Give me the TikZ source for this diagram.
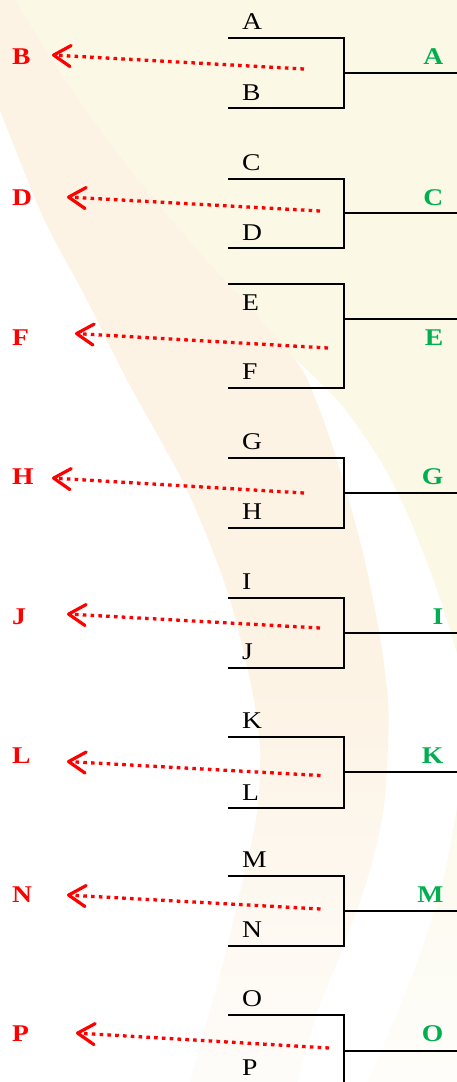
\documentclass[tikz,border=0pt]{standalone}
\usepackage{fontspec}
\setmainfont{Liberation Serif}[FakeStretch=1.15]
\usetikzlibrary{arrows.meta,fadings}
\definecolor{creamc}{RGB}{252,248,230}
\definecolor{peachc}{RGB}{253,243,228}
\definecolor{redc}{RGB}{255,0,0}
\definecolor{greenc}{RGB}{0,176,80}
\tikzfading[name=fadedown, top color=transparent!100, bottom color=transparent!0]
\tikzset{
  brk/.style={line width=2pt, draw=black},
  blk/.style={font=\fontsize{24}{24}\selectfont, anchor=base west, inner sep=0pt, text=black},
  redl/.style={font=\fontsize{24}{24}\selectfont\bfseries, anchor=base west, inner sep=0pt, text=redc},
  grnl/.style={font=\fontsize{24}{24}\selectfont\bfseries, anchor=base east, inner sep=0pt, text=greenc},
  darr/.style={draw=redc, line width=3.3pt, dash pattern=on 3.6pt off 4.2pt,
    -{Straight Barb[length=17pt,width=21pt,line width=3.2pt,round]}},
}
\begin{document}
\begin{tikzpicture}[x=1pt,y=-1pt]
\useasboundingbox (0,0) rectangle (457,1082);
\begin{scope}
\clip (0,0) rectangle (457,1082);
\fill[white] (0,0) rectangle (457,1082);
% upper right cream region
\fill[creamc] (15,0) -- (457,0) -- (457,653)
  -- plot[smooth] coordinates {(457,653) (447,620) (430,570) (407,513) (380,460) (340,403) (293,357)}
  -- plot[smooth] coordinates {(293,357) (200,253) (133,173) (67,83) (15,0)} -- cycle;
% lower right cream region
\fill[creamc] (457,807)
  -- plot[smooth] coordinates {(457,807) (443,880) (417,963) (383,1047) (367,1082)}
  -- (457,1082) -- cycle;
% peach band
\fill[peachc] (0,0) -- (15,0)
  -- plot[smooth] coordinates {(15,0) (67,83) (133,173) (200,253) (293,357) (317,403) (340,470) (363,553) (380,637) (388,700) (388,747) (383,813) (367,880) (343,947) (317,1013) (297,1082)}
  -- (190,1082)
  -- plot[smooth] coordinates {(190,1082) (200,1047) (223,963) (243,880) (257,813) (260,747) (250,680) (227,590) (187,490) (127,380) (87,300) (43,217) (0,110)}
  -- cycle;
% fade of the lower part
\fill[white, opacity=0.8, path fading=fadedown] (0,660) rectangle (457,1082);
\end{scope}
\foreach \n/\t/\b/\m/\ya/\yb/\yr/\tx/\ty/\hx/\hy/\la/\lb in {
 1/38/108/73/21.5/92/56/304/69/52/55/A/B,
 2/179/248/213/162.5/232/197/320/211/67/197/C/D,
 3/284/388/319/302/371/337/328/348/75/333.5/E/F,
 4/458/528/493/441/511/476.3/304/493/52/478/G/H,
 5/598/668/633/581/651/616/320/628/67/614/I/J,
 6/737/808/772/720/792/755.5/320.5/775.5/67/761.5/K/L,
 7/876/946/911/859/929/894/320.5/909/67/895/M/N,
 8/1015/1095/1051/998/1067.5/1033/329/1048/76/1033/O/P}
{
 \coordinate (tl\n) at (228,\t);
 \coordinate (bl\n) at (228,\b);
 \coordinate (v\n) at (344,\m);
 \coordinate (o\n) at (457,\m);
 \draw[brk] (tl\n) -| (v\n) |- (bl\n);
 \draw[brk] (v\n) -- (o\n);
 \node[blk] (up\n) at (242,\ya+8) {\la};
 \node[blk] (dn\n) at (242,\yb+8) {\lb};
 \node[redl] (r\n) at (12,\yr+8.3) {\lb};
 \node[grnl] (g\n) at (443.5,\yr+8.3) {\la};
 \coordinate (at\n) at (\tx,\ty);
 \coordinate (ah\n) at (\hx,\hy);
 \draw[darr] (at\n) -- (ah\n);
}
\end{tikzpicture}
\end{document}
